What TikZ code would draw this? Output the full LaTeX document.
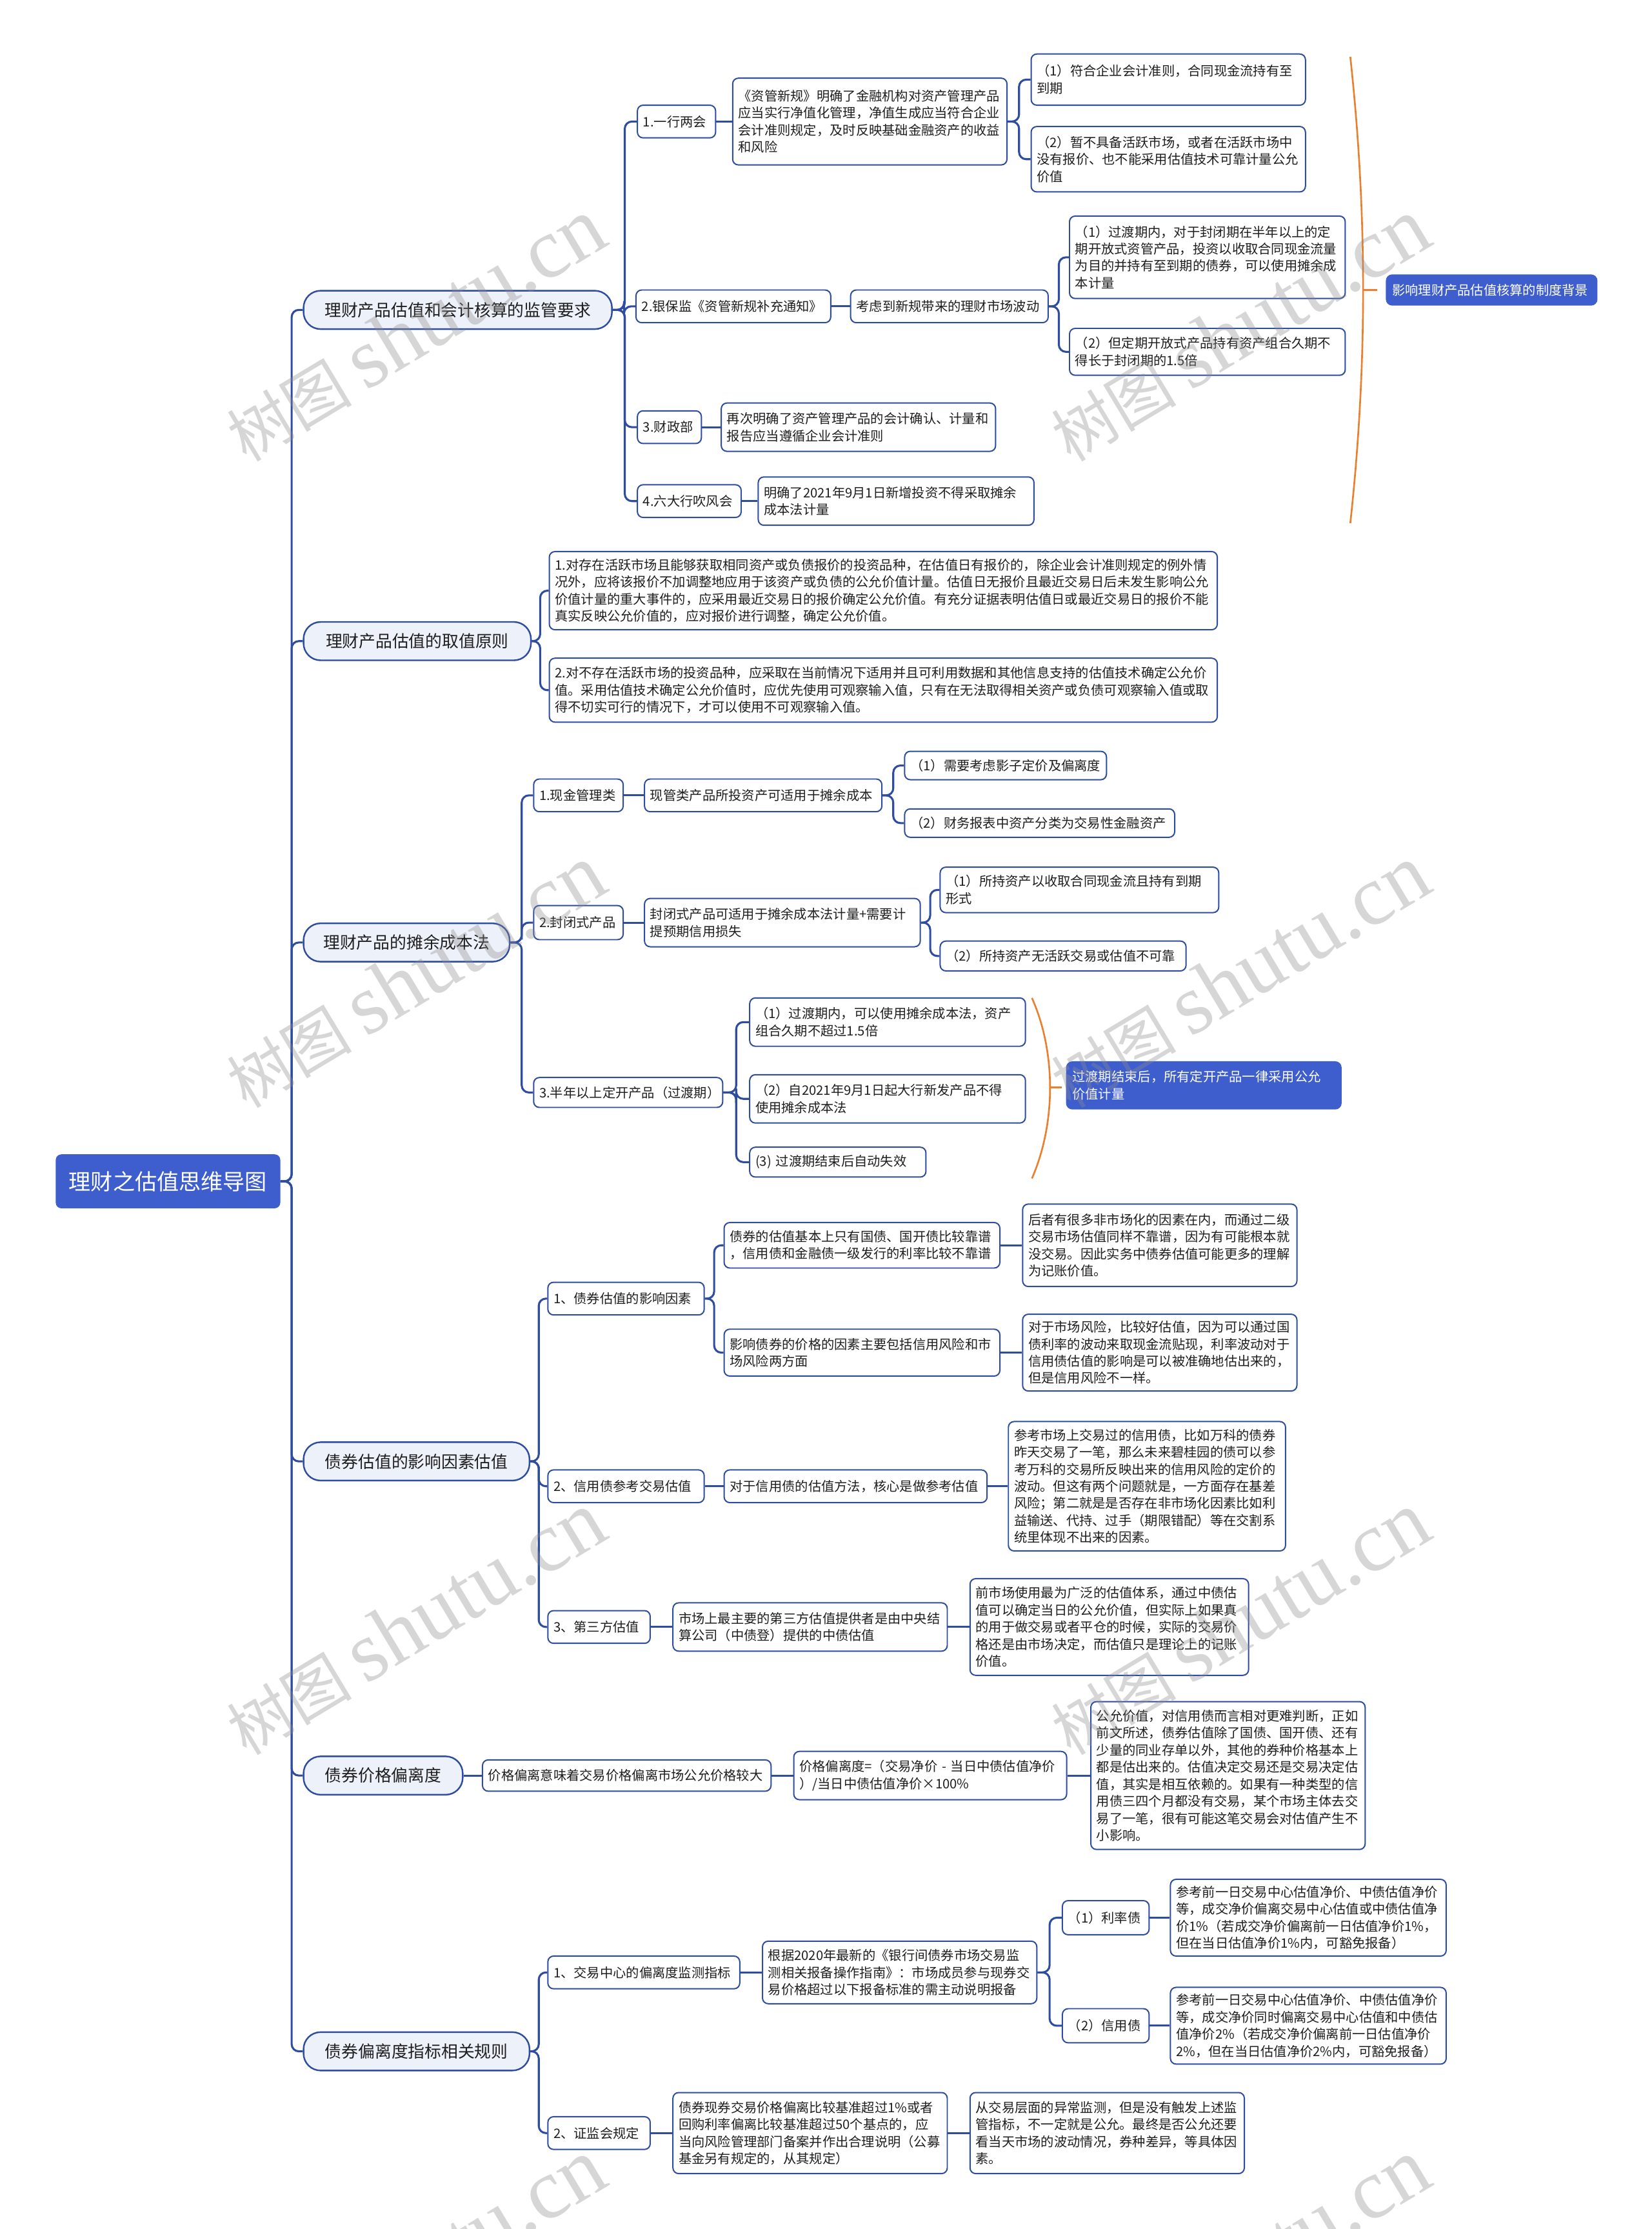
\documentclass[tikz,border=0pt]{standalone}
\usepackage{fontspec}
\setmainfont{Noto Sans CJK SC}
\newfontfamily\wmlatin{Liberation Serif}
\usetikzlibrary{calc}
\definecolor{lineblue}{RGB}{46,76,160}
\definecolor{rootblue}{RGB}{62,94,206}
\definecolor{lvlfill}{RGB}{237,241,250}
\definecolor{brorange}{RGB}{232,128,48}
\definecolor{txt}{RGB}{30,30,30}
\tikzset{
 box/.style={draw=lineblue, line width=0.9pt, rounded corners=4pt, fill=white, align=left, inner xsep=4pt, inner ysep=3pt, font=\fontsize{9.2pt}{12pt}\selectfont, text=txt, anchor=west},
 bluebox/.style={box, fill=rootblue, draw=rootblue, text=white},
 lvl/.style={draw=lineblue, line width=1.1pt, rounded corners=12pt, fill=lvlfill, font=\fontsize{11.7pt}{14pt}\selectfont, text=txt, anchor=west, minimum height=27pt, inner sep=0pt},
 rootnode/.style={fill=rootblue, rounded corners=4pt, text=white, font=\fontsize{15.5pt}{18pt}\selectfont, anchor=west, minimum height=38pt, minimum width=158pt, inner sep=0pt},
 conn/.style={draw=lineblue, line width=1.4pt, rounded corners=5pt},
 straight/.style={draw=lineblue, line width=1.4pt},
 bracket/.style={draw=brorange, line width=1.2pt},
 wm/.style={text=black!45, opacity=0.35, rotate=31, font=\fontsize{44pt}{44pt}\selectfont, inner sep=0pt}
}
\newcommand\bx[7][box]{%
 \pgfmathsetmacro\mybxw{#5-8}%
 \node[#1, text width=\mybxw pt, minimum height=#6pt] (#2) at (#3,#4) {#7};}
\newcommand\cn[2]{\draw[conn] (#1.east) -| ($(#1.east)!.5!(#2.west)$) |- (#2.west);}
\newcommand\cs[2]{\draw[straight] (#1.east) -- (#2.west);}
\begin{document}
\begin{tikzpicture}[x=1pt,y=-1pt]
\useasboundingbox (0,0) rectangle (1162,1568);
\fill[white] (0,0) rectangle (1162,1568);
% root
\node[rootnode] (root) at (39,831) {理财之估值思维导图};
% level 1
\node[lvl, minimum width=217pt] (L1) at (213,218) {理财产品估值和会计核算的监管要求};
\node[lvl, minimum width=160pt] (L2) at (213,451) {理财产品估值的取值原则};
\node[lvl, minimum width=145pt] (L3) at (213,663) {理财产品的摊余成本法};
\node[lvl, minimum width=159pt] (L4) at (213,1028) {债券估值的影响因素估值};
\node[lvl, minimum width=112pt] (L5) at (213,1249) {债券价格偏离度};
\node[lvl, minimum width=159pt] (L6) at (213,1443) {债券偏离度指标相关规则};
% section 1
\bx{a1}{448}{85.5}{55}{23}{1.一行两会}
\bx{a2}{515}{85.5}{193}{61}{《资管新规》明确了金融机构对资产管理产品\\应当实行净值化管理，净值生成应当符合企业\\会计准则规定，及时反映基础金融资产的收益\\和风险}
\bx{a2a}{725}{56}{193}{36}{（1）符合企业会计准则，合同现金流持有至\\到期}
\bx{a2b}{725}{112}{193}{46}{（2）暂不具备活跃市场，或者在活跃市场中\\没有报价、也不能采用估值技术可靠计量公允\\价值}
\bx{b}{447}{215.5}{137}{23}{2.银保监《资管新规补充通知》}
\bx{b1}{598}{215.5}{139}{23}{考虑到新规带来的理财市场波动}
\bx{b1a}{752}{181}{194}{58}{（1）过渡期内，对于封闭期在半年以上的定\\期开放式资管产品，投资以收取合同现金流量\\为目的并持有至到期的债券，可以使用摊余成\\本计量}
\bx{b1b}{752}{247.5}{194}{33}{（2）但定期开放式产品持有资产组合久期不\\得长于封闭期的1.5倍}
\bx{c}{448}{300.5}{45}{23}{3.财政部}
\bx{c1}{507}{300.5}{193}{34}{再次明确了资产管理产品的会计确认、计量和\\报告应当遵循企业会计准则}
\bx{d}{448}{352.5}{73}{23}{4.六大行吹风会}
\bx{d1}{533}{352.5}{194}{34}{明确了2021年9月1日新增投资不得采取摊余\\成本法计量}
\bx[bluebox]{bg}{975}{204}{148}{21}{影响理财产品估值核算的制度背景}
% section 2
\bx{p1}{386}{415.5}{470}{55}{1.对存在活跃市场且能够获取相同资产或负债报价的投资品种，在估值日有报价的，除企业会计准则规定的例外情\\况外，应将该报价不加调整地应用于该资产或负债的公允价值计量。估值日无报价且最近交易日后未发生影响公允\\价值计量的重大事件的，应采用最近交易日的报价确定公允价值。有充分证据表明估值日或最近交易日的报价不能\\真实反映公允价值的，应对报价进行调整，确定公允价值。}
\bx{p2}{386}{485.5}{470}{45}{2.对不存在活跃市场的投资品种，应采取在当前情况下适用并且可利用数据和其他信息支持的估值技术确定公允价\\值。采用估值技术确定公允价值时，应优先使用可观察输入值，只有在无法取得相关资产或负债可观察输入值或取\\得不切实可行的情况下，才可以使用不可观察输入值。}
% section 3
\bx{e}{375}{559.5}{63}{23}{1.现金管理类}
\bx{e1}{453}{559.5}{167}{23}{现管类产品所投资产可适用于摊余成本}
\bx{e1a}{636}{538.5}{142}{20}{（1）需要考虑影子定价及偏离度}
\bx{e1b}{636}{579}{190}{20}{（2）财务报表中资产分类为交易性金融资产}
\bx{f}{375}{649}{63}{24}{2.封闭式产品}
\bx{f1}{453}{649}{194}{34}{封闭式产品可适用于摊余成本法计量+需要计\\提预期信用损失}
\bx{f1a}{661}{626}{196}{32}{（1）所持资产以收取合同现金流且持有到期\\形式}
\bx{f1b}{661}{672.5}{173}{21}{（2）所持资产无活跃交易或估值不可靠}
\bx{g}{375}{768.5}{133}{21}{3.半年以上定开产品（过渡期）}
\bx{g1}{527}{719}{194}{34}{（1）过渡期内，可以使用摊余成本法，资产\\组合久期不超过1.5倍}
\bx{g2}{527}{773}{194}{34}{（2）自2021年9月1日起大行新发产品不得\\使用摊余成本法}
\bx{g3}{527}{817.5}{124}{21}{(3) 过渡期结束后自动失效}
\bx[bluebox]{tb}{750}{763.5}{193}{33}{过渡期结束后，所有定开产品一律采用公允\\价值计量}
% section 4
\bx{h}{385}{913.5}{110}{23}{1、债券估值的影响因素}
\bx{h1}{509}{876}{194}{32}{债券的估值基本上只有国债、国开债比较靠谱\\，信用债和金融债一级发行的利率比较不靠谱}
\bx{h1a}{719}{876}{193}{58}{后者有很多非市场化的因素在内，而通过二级\\交易市场估值同样不靠谱，因为有可能根本就\\没交易。因此实务中债券估值可能更多的理解\\为记账价值。}
\bx{h2}{509}{951.5}{194}{33}{影响债券的价格的因素主要包括信用风险和市\\场风险两方面}
\bx{h2a}{719}{951.5}{193}{54}{对于市场风险，比较好估值，因为可以通过国\\债利率的波动来取现金流贴现，利率波动对于\\信用债估值的影响是可以被准确地估出来的，\\但是信用风险不一样。}
\bx{i}{385}{1045.5}{110}{23}{2、信用债参考交易估值}
\bx{i1}{509}{1045.5}{185}{23}{对于信用债的估值方法，核心是做参考估值}
\bx{i1a}{709}{1045.5}{195}{91}{参考市场上交易过的信用债，比如万科的债券\\昨天交易了一笔，那么未来碧桂园的债可以参\\考万科的交易所反映出来的信用风险的定价的\\波动。但这有两个问题就是，一方面存在基差\\风险；第二就是是否存在非市场化因素比如利\\益输送、代持、过手（期限错配）等在交割系\\统里体现不出来的因素。}
\bx{j}{385}{1144.5}{72}{23}{3、第三方估值}
\bx{j1}{473}{1144.5}{193}{34}{市场上最主要的第三方估值提供者是由中央结\\算公司（中债登）提供的中债估值}
\bx{j1a}{682}{1144.5}{196}{68}{前市场使用最为广泛的估值体系，通过中债估\\值可以确定当日的公允价值，但实际上如果真\\的用于做交易或者平仓的时候，实际的交易价\\格还是由市场决定，而估值只是理论上的记账\\价值。}
% section 5
\bx{k1}{339}{1249}{203}{22}{价格偏离意味着交易价格偏离市场公允价格较大}
\bx{k2}{558}{1249}{192}{34}{价格偏离度=（交易净价~-~当日中债估值净价\\）/当日中债估值净价×100\%}
\bx{k3}{767}{1249}{193}{104}{公允价值，对信用债而言相对更难判断，正如\\前文所述，债券估值除了国债、国开债、还有\\少量的同业存单以外，其他的券种价格基本上\\都是估出来的。估值决定交易还是交易决定估\\值，其实是相互依赖的。如果有一种类型的信\\用债三四个月都没有交易，某个市场主体去交\\易了一笔，很有可能这笔交易会对估值产生不\\小影响。}
% section 6
\bx{l}{385}{1387.5}{135}{23}{1、交易中心的偏离度监测指标}
\bx{l1}{536}{1387.5}{193}{44}{根据2020年最新的《银行间债券市场交易监\\测相关报备操作指南》：市场成员参与现券交\\易价格超过以下报备标准的需主动说明报备}
\bx{la}{747}{1349}{61}{24}{（1）利率债}
\bx{la1}{823}{1349}{194}{54}{参考前一日交易中心估值净价、中债估值净价\\等，成交净价偏离交易中心估值或中债估值净\\价1\%（若成交净价偏离前一日估值净价1\%，\\但在当日估值净价1\%内，可豁免报备）}
\bx{lb}{747}{1425}{61}{24}{（2）信用债}
\bx{lb1}{823}{1425}{194}{54}{参考前一日交易中心估值净价、中债估值净价\\等，成交净价同时偏离交易中心估值和中债估\\值净价2\%（若成交净价偏离前一日估值净价\\2\%，但在当日估值净价2\%内，可豁免报备）}
\bx{m}{385}{1500.5}{72}{23}{2、证监会规定}
\bx{m1}{473}{1500.5}{193}{57}{债券现券交易价格偏离比较基准超过1\%或者\\回购利率偏离比较基准超过50个基点的，应\\当向风险管理部门备案并作出合理说明（公募\\基金另有规定的，从其规定）}
\bx{m1a}{682}{1500.5}{193}{57}{从交易层面的异常监测，但是没有触发上述监\\管指标，不一定就是公允。最终是否公允还要\\看当天市场的波动情况，券种差异，等具体因\\素。}
% connectors
\foreach \c in {L1,L2,L3,L4,L6} {\cn{root}{\c}}
\cn{root}{L5}
\cn{L1}{a1}\cn{L1}{b}\cn{L1}{c}\cn{L1}{d}
\cs{a1}{a2}\cn{a2}{a2a}\cn{a2}{a2b}
\cs{b}{b1}\cn{b1}{b1a}\cn{b1}{b1b}
\cs{c}{c1}\cs{d}{d1}
\cn{L2}{p1}\cn{L2}{p2}
\cn{L3}{e}\cn{L3}{f}\cn{L3}{g}
\cs{e}{e1}\cn{e1}{e1a}\cn{e1}{e1b}
\cs{f}{f1}\cn{f1}{f1a}\cn{f1}{f1b}
\cn{g}{g1}\cn{g}{g2}\cn{g}{g3}
\cn{L4}{h}\cn{L4}{i}\cn{L4}{j}
\cn{h}{h1}\cn{h}{h2}\cs{h1}{h1a}\cs{h2}{h2a}
\cs{i}{i1}\cs{i1}{i1a}
\cs{j}{j1}\cs{j1}{j1a}
\cs{L5}{k1}\cs{k1}{k2}\cs{k2}{k3}
\cn{L6}{l}\cn{L6}{m}
\cs{l}{l1}\cn{l1}{la}\cn{l1}{lb}\cs{la}{la1}\cs{lb}{lb1}
\cs{m}{m1}\cs{m1}{m1a}
% brackets
\draw[bracket] (950,40) .. controls (962,150) and (962,258) .. (950,368);
\coordinate (br1) at (959,204);
\coordinate (br1e) at (969,204);
\draw[bracket] (br1) -- (br1e);
\draw[bracket] (726,702) .. controls (743,740) and (743,790) .. (726,829);
\coordinate (br2) at (738.7,765);
\coordinate (br2e) at (747,765);
\draw[bracket] (br2) -- (br2e);
% watermarks
\foreach \wx in {292,872} {
 \foreach \wy in {232,687,1142,1597} {
  \node[wm] at (\wx,\wy) {树图 {\wmlatin\fontsize{60pt}{60pt}\selectfont shutu.cn}};
 }
}
\end{tikzpicture}
\end{document}
